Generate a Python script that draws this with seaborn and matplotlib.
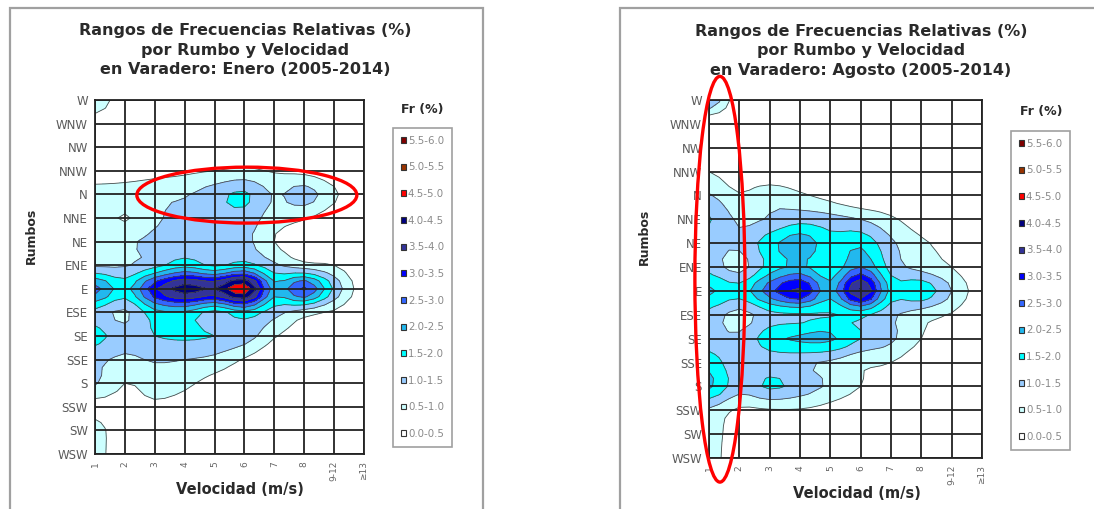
import numpy as np
import matplotlib
matplotlib.use("Agg")
import matplotlib.pyplot as plt
from matplotlib.patches import Patch, Ellipse, Rectangle
import seaborn as sns

sns.set_theme(style="white")
plt.rcParams["font.family"] = ["DejaVu Sans"]

# Wind directions, listed from the top row of the chart to the bottom row
rumbos = ["W", "WNW", "NW", "NNW", "N", "NNE", "NE", "ENE",
          "E", "ESE", "SE", "SSE", "S", "SSW", "SW", "WSW"]
# Speed classes (m/s)
velocidades = ["1", "2", "3", "4", "5", "6", "7", "8", "9-12", "≥13"]

# Relative frequency (%) per direction (rows, same order as rumbos) and speed class
enero = [
    [0.90, 0.10, 0.00, 0.00, 0.00, 0.00, 0.00, 0.00, 0.00, 0.00],  # W
    [0.20, 0.00, 0.00, 0.00, 0.00, 0.00, 0.00, 0.00, 0.00, 0.00],  # WNW
    [0.00, 0.00, 0.00, 0.00, 0.00, 0.00, 0.00, 0.00, 0.00, 0.00],  # NW
    [0.00, 0.15, 0.30, 0.40, 0.50, 0.60, 0.45, 0.35, 0.15, 0.00],  # NNW
    [0.85, 0.80, 0.90, 0.95, 1.30, 1.60, 0.95, 1.25, 0.60, 0.00],  # N
    [0.80, 0.45, 0.90, 1.20, 1.30, 1.30, 0.75, 0.55, 0.20, 0.00],  # NNE
    [0.80, 0.90, 1.15, 1.30, 1.20, 1.15, 0.50, 0.10, 0.00, 0.00],  # NE
    [0.90, 0.95, 1.30, 1.80, 1.40, 1.70, 1.10, 0.65, 0.50, 0.00],  # ENE
    [2.70, 1.80, 3.40, 4.30, 4.00, 4.95, 2.20, 3.10, 1.40, 0.20],  # E
    [1.30, 0.90, 1.80, 1.90, 1.30, 1.80, 1.20, 0.70, 0.40, 0.00],  # ESE
    [1.70, 1.20, 1.50, 1.60, 1.50, 1.30, 0.55, 0.20, 0.00, 0.00],  # SE
    [1.10, 0.90, 1.05, 1.00, 0.85, 0.45, 0.10, 0.00, 0.00, 0.00],  # SSE
    [1.05, 0.50, 0.70, 0.60, 0.30, 0.10, 0.00, 0.00, 0.00, 0.00],  # S
    [0.30, 0.30, 0.40, 0.30, 0.10, 0.00, 0.00, 0.00, 0.00, 0.00],  # SSW
    [0.75, 0.00, 0.00, 0.00, 0.00, 0.00, 0.00, 0.00, 0.00, 0.00],  # SW
    [0.75, 0.00, 0.00, 0.00, 0.00, 0.00, 0.00, 0.00, 0.00, 0.00],  # WSW
]

agosto = [
    [1.50, 0.10, 0.00, 0.00, 0.00, 0.00, 0.00, 0.00, 0.00, 0.00],  # W
    [0.00, 0.00, 0.00, 0.00, 0.00, 0.00, 0.00, 0.00, 0.00, 0.00],  # WNW
    [0.00, 0.00, 0.00, 0.00, 0.00, 0.00, 0.00, 0.00, 0.00, 0.00],  # NW
    [0.50, 0.10, 0.00, 0.00, 0.00, 0.00, 0.00, 0.00, 0.00, 0.00],  # NNW
    [1.05, 0.55, 0.90, 0.60, 0.30, 0.00, 0.00, 0.00, 0.00, 0.00],  # N
    [1.55, 0.90, 1.05, 1.30, 1.20, 1.00, 0.60, 0.20, 0.00, 0.00],  # NNE
    [1.20, 1.10, 1.80, 2.35, 1.70, 1.90, 1.10, 0.60, 0.30, 0.00],  # NE
    [1.30, 0.80, 1.70, 2.10, 1.60, 2.50, 1.30, 0.80, 0.50, 0.00],  # ENE
    [2.10, 1.70, 2.80, 3.60, 2.20, 4.10, 1.80, 1.90, 1.00, 0.20],  # E
    [1.30, 0.80, 1.30, 1.40, 1.45, 1.60, 1.10, 0.70, 0.45, 0.00],  # ESE
    [1.20, 1.10, 1.80, 2.10, 2.10, 1.50, 1.10, 0.50, 0.10, 0.00],  # SE
    [1.80, 1.10, 1.20, 1.10, 0.90, 0.60, 0.50, 0.10, 0.00, 0.00],  # SSE
    [2.10, 1.20, 1.60, 1.30, 0.90, 0.50, 0.20, 0.00, 0.00, 0.00],  # S
    [0.90, 0.40, 0.45, 0.45, 0.30, 0.10, 0.00, 0.00, 0.00, 0.00],  # SSW
    [0.90, 0.00, 0.00, 0.00, 0.00, 0.00, 0.00, 0.00, 0.00, 0.00],  # SW
    [0.80, 0.00, 0.00, 0.00, 0.00, 0.00, 0.00, 0.00, 0.00, 0.00],  # WSW
]

# Frequency bands (%) and their fill colours
niveles = [0.0, 0.5, 1.0, 1.5, 2.0, 2.5, 3.0, 3.5, 4.0, 4.5, 5.0, 5.5, 6.0]
colores = ["#ffffff", "#ccffff", "#99ccff", "#00ffff", "#22b8ee", "#3366ff",
           "#0000ff", "#333399", "#000080", "#ff0000", "#993300", "#800000"]

W, H = 1094, 509
fig = plt.figure(figsize=(W / 100, H / 100), dpi=100)
fig.patch.set_facecolor("white")


def fx(px):
    return px / W


def fy(py):
    return 1 - py / H


def refinar(v, n):
    """Catmull-Rom refinement of a 1-D profile, n sub-steps per cell."""
    v = np.asarray(v, float)
    p = np.concatenate([[v[0]], v, [v[-1]]])
    out = []
    t = np.arange(n) / n
    for i in range(len(v) - 1):
        p0, p1, p2, p3 = p[i], p[i + 1], p[i + 2], p[i + 3]
        out.append(0.5 * (2 * p1 + (-p0 + p2) * t
                          + (2 * p0 - 5 * p1 + 4 * p2 - p3) * t ** 2
                          + (-p0 + 3 * p1 - 3 * p2 + p3) * t ** 3))
    out.append([v[-1]])
    return np.concatenate(out)


def suavizar(z, n):
    a = np.array([refinar(r, n) for r in z])
    b = np.array([refinar(c, n) for c in a.T]).T
    return np.clip(b, 0, None)


def panel(ax_box, datos, mes, frame_box, title_xy, legend_xy, fr_xy,
          rumbos_xy, vel_xy):
    # chart-area frame
    x0, x1, ytop = frame_box
    fig.add_artist(Rectangle((fx(x0), -0.2), fx(x1 - x0), fy(ytop) + 0.2,
                             transform=fig.transFigure, fill=False,
                             edgecolor="#a0a0a0", lw=1.6, zorder=0))
    ax = fig.add_axes(ax_box)
    z = suavizar(np.array(datos)[::-1], 3)   # bottom row = WSW
    xs = np.arange(1, len(velocidades) + 1)
    ys = np.arange(len(rumbos))
    xf = np.linspace(1, len(velocidades), z.shape[1])
    yf = np.linspace(0, len(rumbos) - 1, z.shape[0])
    X, Y = np.meshgrid(xf, yf)
    ax.contourf(X, Y, z, levels=niveles, colors=colores, zorder=1)
    ax.contour(X, Y, z, levels=niveles[1:], colors="#4a4a4a",
               linewidths=0.6, zorder=1.5)
    ax.set_xlim(1, len(velocidades))
    ax.set_ylim(0, len(rumbos) - 1)
    ax.set_xticks(xs)
    ax.set_xticklabels(velocidades, rotation=90, fontsize=6.5, color="#666666")
    ax.set_yticks(ys)
    ax.set_yticklabels(rumbos[::-1], fontsize=8.5, color="#5a5a5a")
    ax.tick_params(length=0, pad=5)
    ax.set_axisbelow(False)
    ax.grid(True, color="#222222", lw=1.3)
    for s in ax.spines.values():
        s.set_visible(True)
        s.set_color("#222222")
        s.set_linewidth(1.3)

    fig.text(fx(title_xy[0]), fy(title_xy[1]),
             "Rangos de Frecuencias Relativas (%)\npor Rumbo y Velocidad\n"
             f"en Varadero: {mes} (2005-2014)",
             ha="center", va="center", fontsize=11.5, fontweight="bold",
             color="#2a2a2a", linespacing=1.35)
    fig.text(fx(rumbos_xy[0]), fy(rumbos_xy[1]), "Rumbos", rotation=90,
             ha="center", va="center", fontsize=9, fontweight="bold",
             color="#2a2a2a")
    fig.text(fx(vel_xy[0]), fy(vel_xy[1]), "Velocidad (m/s)",
             ha="center", va="center", fontsize=10.5, fontweight="bold",
             color="#2a2a2a")
    fig.text(fx(fr_xy[0]), fy(fr_xy[1]), "Fr (%)", ha="center", va="center",
             fontsize=9, fontweight="bold", color="#2a2a2a")

    handles = [Patch(facecolor=c, edgecolor="#333333", lw=0.8,
                     label=f"{a:.1f}-{b:.1f}")
               for c, a, b in zip(colores, niveles[:-1], niveles[1:])][::-1]
    leg = fig.legend(handles=handles, loc="upper left",
                     bbox_to_anchor=(fx(legend_xy[0]), fy(legend_xy[1])),
                     bbox_transform=fig.transFigure, fontsize=7.4,
                     handlelength=0.5, handleheight=0.5, handletextpad=0.2,
                     labelspacing=1.62, borderpad=0.75, borderaxespad=0,
                     fancybox=False, frameon=True)
    for t in leg.get_texts():
        t.set_color("#8a8a8a")
    leg.get_frame().set_edgecolor("#888888")
    leg.get_frame().set_linewidth(1.2)
    return ax


ax1 = panel([fx(95), fy(454), fx(364 - 95), (454 - 100) / H], enero, "Enero",
            (10, 483, 8), (245, 50), (393, 128), (422, 110), (31, 236),
            (240, 490))
ax2 = panel([fx(709), fy(458), fx(982 - 709), (458 - 100) / H], agosto,
            "Agosto", (620, 1110, 8), (861, 51), (1011, 131), (1041, 112),
            (644, 237), (857, 493))

# highlighted zones
ax1.add_patch(Ellipse((6.08, 10.97), 7.36, 2.37, fill=False, edgecolor="red",
                      lw=2.4, clip_on=False, zorder=5))
ax2.add_patch(Ellipse((1.36, 7.49), 1.65, 17.0, fill=False, edgecolor="red",
                      lw=2.4, clip_on=False, zorder=5))

fig.savefig("out.png", dpi=100, facecolor="white")
